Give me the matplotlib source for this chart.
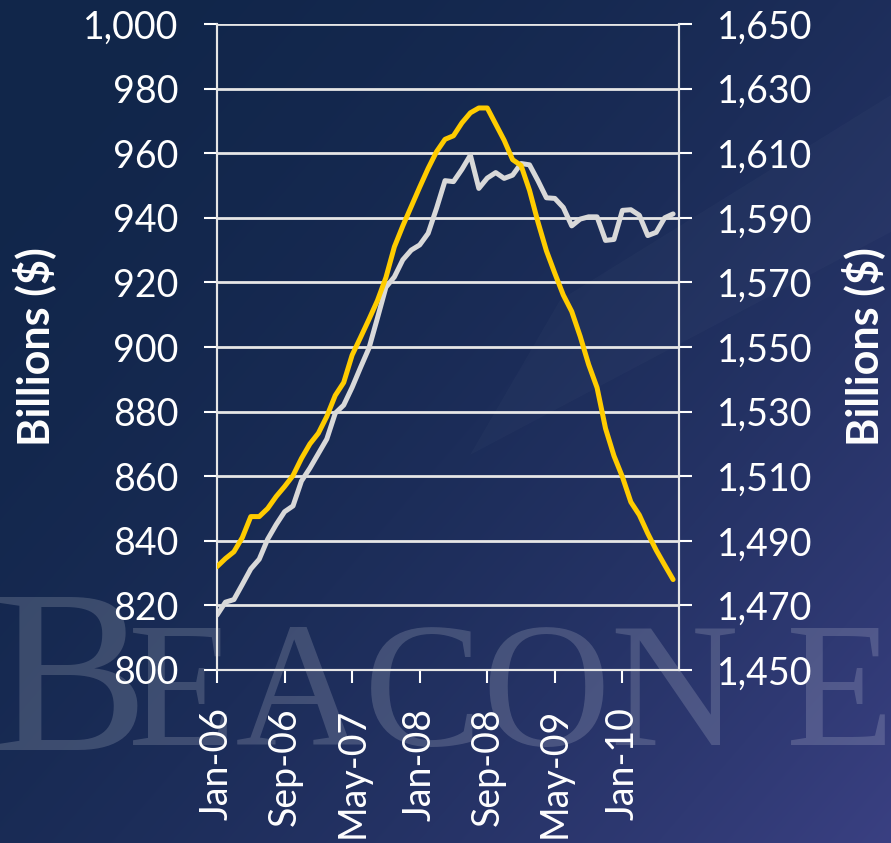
import numpy as np
import matplotlib
matplotlib.use("Agg")
import matplotlib.pyplot as plt
from matplotlib.patches import Polygon

# Monthly series, Jan-06 .. Jul-10 (billions of dollars)
left_series = [
    817.0, 821.0, 821.8, 826.5, 831.3, 834.3, 840.5, 845.0, 849.0, 850.8,
    858.5, 862.5, 867.0, 871.5, 879.5, 882.0, 887.5, 893.7, 899.7, 909.0,
    918.5, 921.7, 927.0, 930.0, 931.6, 935.2, 943.0, 951.5, 951.2, 955.0,
    959.4, 949.1, 952.3, 954.0, 952.2, 953.2, 956.8, 956.4, 951.5, 946.2,
    946.0, 943.2, 937.5, 939.6, 940.3, 940.3, 933.0, 933.3, 942.3, 942.5,
    940.8, 934.5, 935.5, 940.0, 941.2,
]
right_series = [
    1482.0, 1484.5, 1486.6, 1491.0, 1497.5, 1497.5, 1500.0, 1503.7, 1506.8, 1510.2,
    1515.5, 1520.0, 1523.3, 1528.5, 1535.0, 1539.0, 1547.5, 1553.0, 1558.6, 1564.4,
    1571.5, 1581.0, 1587.5, 1593.5, 1599.5, 1605.3, 1610.5, 1614.3, 1615.4, 1619.4,
    1622.5, 1624.0, 1624.0, 1619.0, 1614.0, 1608.0, 1606.2, 1598.5, 1588.7, 1579.8,
    1572.8, 1566.1, 1561.0, 1553.3, 1544.6, 1537.4, 1524.8, 1516.3, 1509.8, 1502.0,
    1498.0, 1492.3, 1487.1, 1482.5, 1478.0,
]
tick_labels = ["Jan-06", "Sep-06", "May-07", "Jan-08", "Sep-08", "May-09", "Jan-10"]
tick_months = [0, 8, 16, 24, 32, 40, 48]

W, H = 891, 843
fig = plt.figure(figsize=(W / 100, H / 100), dpi=100)

# slide background: navy gradient
bg = fig.add_axes([0, 0, 1, 1])
bg.set_zorder(-3)
yy, xx = np.mgrid[0:H, 0:W]
s = ((xx / W) * 0.55 + (yy / H) * 0.45) ** 2
tl = np.array([17, 38, 74]) / 255.0
br = np.array([58, 64, 130]) / 255.0
img = tl[None, None, :] * (1 - s[..., None]) + br[None, None, :] * s[..., None]
bg.imshow(img, extent=[0, W, H, 0], aspect="auto", interpolation="bilinear")
bg.add_patch(Polygon([[470, 455], [891, 232], [891, 95], [560, 300]],
                     closed=True, facecolor="white", alpha=0.018, edgecolor="none"))
bg.set_xlim(0, W)
bg.set_ylim(H, 0)
bg.axis("off")

# faint logo lettering behind the chart
wm = dict(color="white", alpha=0.16, family="Liberation Serif", zorder=-2,
          va="baseline", ha="left")
fig.text(-8 / W, 1 - 750 / H, "B", fontsize=168, **wm)
fig.text(128 / W, 1 - 745 / H, "EACON", fontsize=128, **wm)
fig.text(786 / W, 1 - 745 / H, "EC", fontsize=128, **wm)

tick_font = "Lato"
ax = fig.add_axes([217 / W, 1 - 670 / H, (679 - 217) / W, (670 - 24) / H])
ax.set_facecolor("none")
ax2 = ax.twinx()
ax2.set_facecolor("none")

x = np.arange(len(left_series))
ax.plot(x, left_series, color="#d9d9d9", lw=3.6, solid_capstyle="round",
        solid_joinstyle="round", zorder=3)
ax2.plot(x, right_series, color="#ffcc00", lw=3.6, solid_capstyle="round",
         solid_joinstyle="round", zorder=3)

ax.set_xlim(0, 54.7)
ax.set_ylim(800, 1000)
ax2.set_ylim(1450, 1650)
ax.set_yticks(np.arange(800, 1001, 20))
ax2.set_yticks(np.arange(1450, 1651, 20))
fmt = matplotlib.ticker.FuncFormatter(lambda v, p: f"{v:,.0f}")
ax.yaxis.set_major_formatter(fmt)
ax2.yaxis.set_major_formatter(fmt)
ax.set_xticks(tick_months)
ax.set_xticklabels(tick_labels, rotation=90)

ax.grid(axis="y", color="#e6e6e6", lw=2.0, zorder=1)
ax.set_axisbelow(True)
for a in (ax, ax2):
    for side in ("left", "right", "bottom"):
        a.spines[side].set_color("#e6e6e6")
        a.spines[side].set_linewidth(1.5)
    a.spines["top"].set_visible(False)
ax.tick_params(axis="y", colors="white", length=9.5, width=1.5, pad=18,
               labelsize=27, direction="out")
ax2.tick_params(axis="y", colors="white", length=9.5, width=1.5, pad=18,
                labelsize=27, direction="out")
ax.tick_params(axis="x", colors="white", length=9, width=1.5, pad=18,
               labelsize=27, direction="out")
for lab in ax.get_xticklabels() + ax.get_yticklabels() + ax2.get_yticklabels():
    lab.set_fontfamily(tick_font)

ax.set_ylabel("Billions ($)", color="white", fontsize=31, fontweight="bold",
              family=tick_font, labelpad=20)
ax2.set_ylabel("Billions ($)", color="white", fontsize=31, fontweight="bold",
               family=tick_font, rotation=90, labelpad=20)

fig.savefig("out.png", dpi=100)
